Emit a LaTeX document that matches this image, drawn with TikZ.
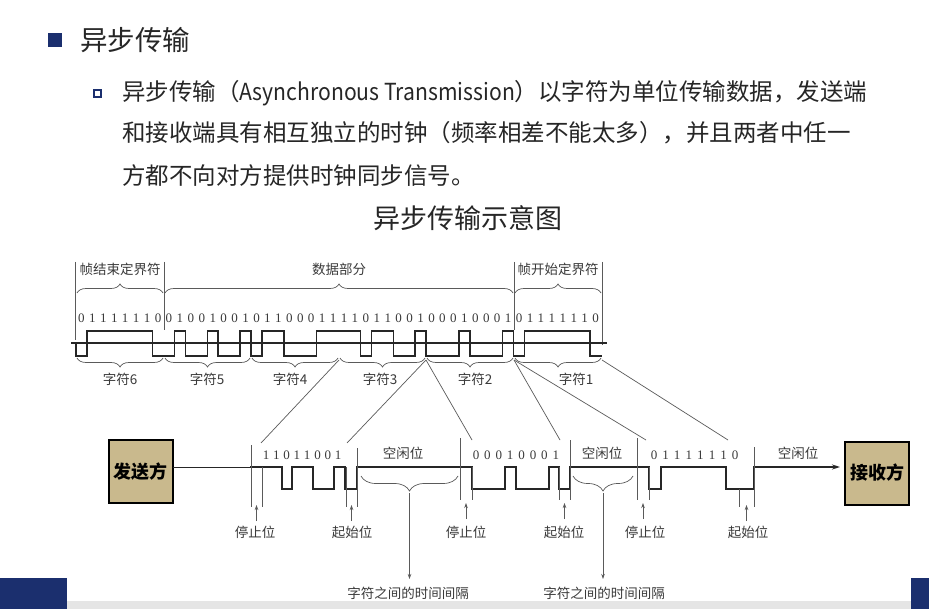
\documentclass[tikz,border=0pt]{standalone}
\usepackage{fontspec}
\newfontfamily\cjk{Noto Sans CJK SC}
\newfontfamily\cjknarrow[FakeStretch=0.9]{Noto Sans CJK SC}
\newfontfamily\dig{Liberation Serif}
\usetikzlibrary{decorations.pathreplacing,arrows.meta}
\definecolor{navy}{HTML}{1B2F6E}
\definecolor{tan}{HTML}{C9B98D}
\definecolor{txt}{HTML}{262626}
\definecolor{lbl}{HTML}{3A3A3A}
\definecolor{ln}{HTML}{5A5A5A}
\begin{document}
\begin{tikzpicture}[x=1pt,y=-1pt,
  every node/.style={inner sep=0pt, outer sep=0pt},
  heading/.style={font=\cjk\fontsize{27.5}{27.5}\selectfont, text=txt, anchor=west},
  para/.style={font=\cjk\fontsize{23.5}{23.5}\selectfont, text=txt, anchor=west},
  diagtitle/.style={font=\cjk\fontsize{27}{27}\selectfont, text=txt},
  lab/.style={font=\cjk\fontsize{13.5}{13.5}\selectfont, text=lbl},
  bit/.style={font=\dig\fontsize{13}{13}\selectfont, text=lbl},
  party/.style={draw=black, line width=2pt, fill=tan, minimum width=64pt, minimum height=63pt, font=\cjk\bfseries\fontsize{18}{18}\selectfont},
  wave/.style={line width=1.5pt, black!85, line cap=rect},
  guide/.style={line width=0.7pt, ln},
  brc/.style={decorate, decoration={brace, amplitude=#1}, line width=0.7pt, ln},
  uparrow/.style={line width=0.7pt, ln, -{Stealth[length=5pt,width=3.5pt]}},
]
\fill[white] (0,0) rectangle (929,609);
\useasboundingbox (0,0) rectangle (929,609);

% header
\fill[navy] (48,33) rectangle (62,47);
\node[heading] (h) at (80,40) {异步传输};
\draw[navy, line width=1.2pt, fill=white] (94,90) rectangle (101,97);
\node[para] (p1) at (122,93) {异步传输（{\cjknarrow Asynchronous Transmission}）以字符为单位传输数据，发送端};
\node[para] (p2) at (122,133) {和接收端具有相互独立的时钟（频率相差不能太多），并且两者中任一};
\node[para] (p3) at (122,176) {方都不向对方提供时钟同步信号。};
\node[diagtitle] (t) at (468,218) {异步传输示意图};

% top frame lines and braces
\draw[guide] (75,262) -- (75,340);
\draw[guide] (164,262) -- (164,330);
\draw[guide] (514,262) -- (514,330);
\draw[guide] (602,262) -- (602,345);
\draw[brc=9pt] (77,293) -- (163,293);
\draw[brc=9pt] (165,293) -- (513,293);
\draw[brc=9pt] (515,293) -- (601,293);
\node[lab] (fe) at (120,269) {帧结束定界符};
\node[lab] (dp) at (339,269) {数据部分};
\node[lab] (fs) at (558,269) {帧开始定界符};

% top waveform
\draw[wave] (72,343) -- (606,343);
\draw[wave] (76,343) -- (76,356);
\foreach \b [count=\i from 0, remember=\b as \p (initially 0)] in
 {0,1,1,1,1,1,1,0, 0,1,0,0,1,0,0,1, 0,1,1,0,0,0,1,1, 1,1,0,1,1,0,0,1, 0,0,0,1,0,0,0,1, 0,1,1,1,1,1,1,0}
{
  \ifnum\b=\p
    \draw[wave] ({76+\i*10.94},{356-25*\b}) -- ({76+(\i+1)*10.94},{356-25*\b});
  \else
    \draw[wave] ({76+\i*10.94},{356-25*\p}) -- ({76+\i*10.94},{356-25*\b}) -- ({76+(\i+1)*10.94},{356-25*\b});
  \fi
  \node[bit] at ({76+(\i+0.5)*10.94},318) {\b};
}

% character braces
\draw[brc=9pt] (163,358) -- (77,358);
\draw[brc=9pt] (250,358) -- (165,358);
\draw[brc=9pt] (338,358) -- (252,358);
\draw[brc=9pt] (425,358) -- (340,358);
\draw[brc=9pt] (513,358) -- (427,358);
\draw[brc=9pt] (601,358) -- (515,358);
\node[lab] (c6) at (120,379) {字符6};
\node[lab] (c5) at (207,379) {字符5};
\node[lab] (c4) at (290,379) {字符4};
\node[lab] (c3) at (380,379) {字符3};
\node[lab] (c2) at (475,379) {字符2};
\node[lab] (c1) at (576,379) {字符1};

% slanted connectors
\coordinate (ta) at (339,360);
\coordinate (tb) at (426,360);
\coordinate (tc) at (514,360);
\coordinate (td) at (602,360);
\coordinate (ba1) at (261,443);
\coordinate (ba2) at (347,443);
\coordinate (bb1) at (472,440);
\coordinate (bb2) at (560,440);
\coordinate (bc1) at (646,440);
\coordinate (bc2) at (728,440);
\draw[guide] (ta) -- (ba1);
\draw[guide] (tb) -- (ba2);
\draw[guide] (tb) -- (bb1);
\draw[guide] (tc) -- (bb2);
\draw[guide] (tc) -- (bc1);
\draw[guide] (td) -- (bc2);

% parties
\node[party] (send) at (140.5,471.5) {发送方};
\node[party] (recv) at (877,473) {接收方};
\coordinate (l0) at (0,467);
\coordinate (wend) at (754,467);
\draw[line width=1pt, black!85] (send.east |- l0) -- (251,467);
\draw[wave] (251,467) -- (282,467) -- (282,489) -- (292,489) -- (292,467) -- (313,467) -- (313,489) -- (334,489) -- (334,467) -- (345,467) -- (345,489) -- (357,489) -- (357,467)
  -- (472,467) -- (472,489) -- (505,489) -- (505,467) -- (516,467) -- (516,489) -- (549,489) -- (549,467) -- (559,467) -- (559,489) -- (570,489) -- (570,467)
  -- (649,467) -- (649,489) -- (661,489) -- (661,467) -- (726,467) -- (726,489) -- (754,489) -- (wend);
\draw[wave, line cap=butt, -{Stealth[length=8pt,width=5pt]}] (wend) -- ([xshift=-5pt]recv.west |- l0);

% bottom guides
\draw[guide] (251,445) -- (251,507);
\draw[guide] (262,467) -- (262,507);
\draw[guide] (346,467) -- (346,507);
\draw[guide] (357,448) -- (357,507);
\draw[guide] (460,438) -- (460,500);
\draw[guide] (472,467) -- (472,500);
\draw[guide] (559,467) -- (559,500);
\draw[guide] (570,440) -- (570,500);
\draw[guide] (637,438) -- (637,500);
\draw[guide] (649,467) -- (649,500);
\draw[guide] (739,489) -- (739,507);
\draw[guide] (754,447) -- (754,507);

% bit digits bottom
\foreach \b [count=\k from 0] in {1,1,0,1,1,0,0,1} \node[bit] at ({266+10.3*\k},455) {\b};
\foreach \b [count=\k from 0] in {0,0,0,1,0,0,0,1} \node[bit] at ({476+11.4*\k},455) {\b};
\foreach \b [count=\k from 0] in {0,1,1,1,1,1,1,0} \node[bit] at ({654+11.6*\k},455) {\b};

% stop/start labels
\node[lab] (s1) at (255,532) {停止位};
\node[lab] (q1) at (352,532) {起始位};
\node[lab] (s2) at (466,532) {停止位};
\node[lab] (q2) at (564,532) {起始位};
\node[lab] (s3) at (645,532) {停止位};
\node[lab] (q3) at (748,532) {起始位};
\draw[uparrow] (256.5,521) -- (256.5,505);
\draw[uparrow] (351.5,521) -- (351.5,505);
\draw[uparrow] (466,519) -- (466,503);
\draw[uparrow] (564.5,519) -- (564.5,503);
\draw[uparrow] (643,519) -- (643,503);
\draw[uparrow] (746.5,521) -- (746.5,505);

% idle
\node[lab] (i1) at (403,453) {空闲位};
\node[lab] (i2) at (602,453) {空闲位};
\node[lab] (i3) at (798,453) {空闲位};
\draw[brc=15pt] (458,476) -- (361,476);
\draw[brc=15pt] (633,476) -- (573,476);
\node[lab] (g1) at (408,593) {字符之间的时间间隔};
\node[lab] (g2) at (604,593) {字符之间的时间间隔};
\coordinate (b1) at (409.5,493);
\coordinate (b2) at (603,493);
\draw[uparrow] (b1) -- (b1 |- 0,579);
\draw[uparrow] (b2) -- (b2 |- 0,579);

% footer
\fill[gray!20] (0,601) rectangle (929,609);
\fill[navy] (0,578) rectangle (67,609);
\fill[navy] (911,578) rectangle (929,609);
\end{tikzpicture}
\end{document}
